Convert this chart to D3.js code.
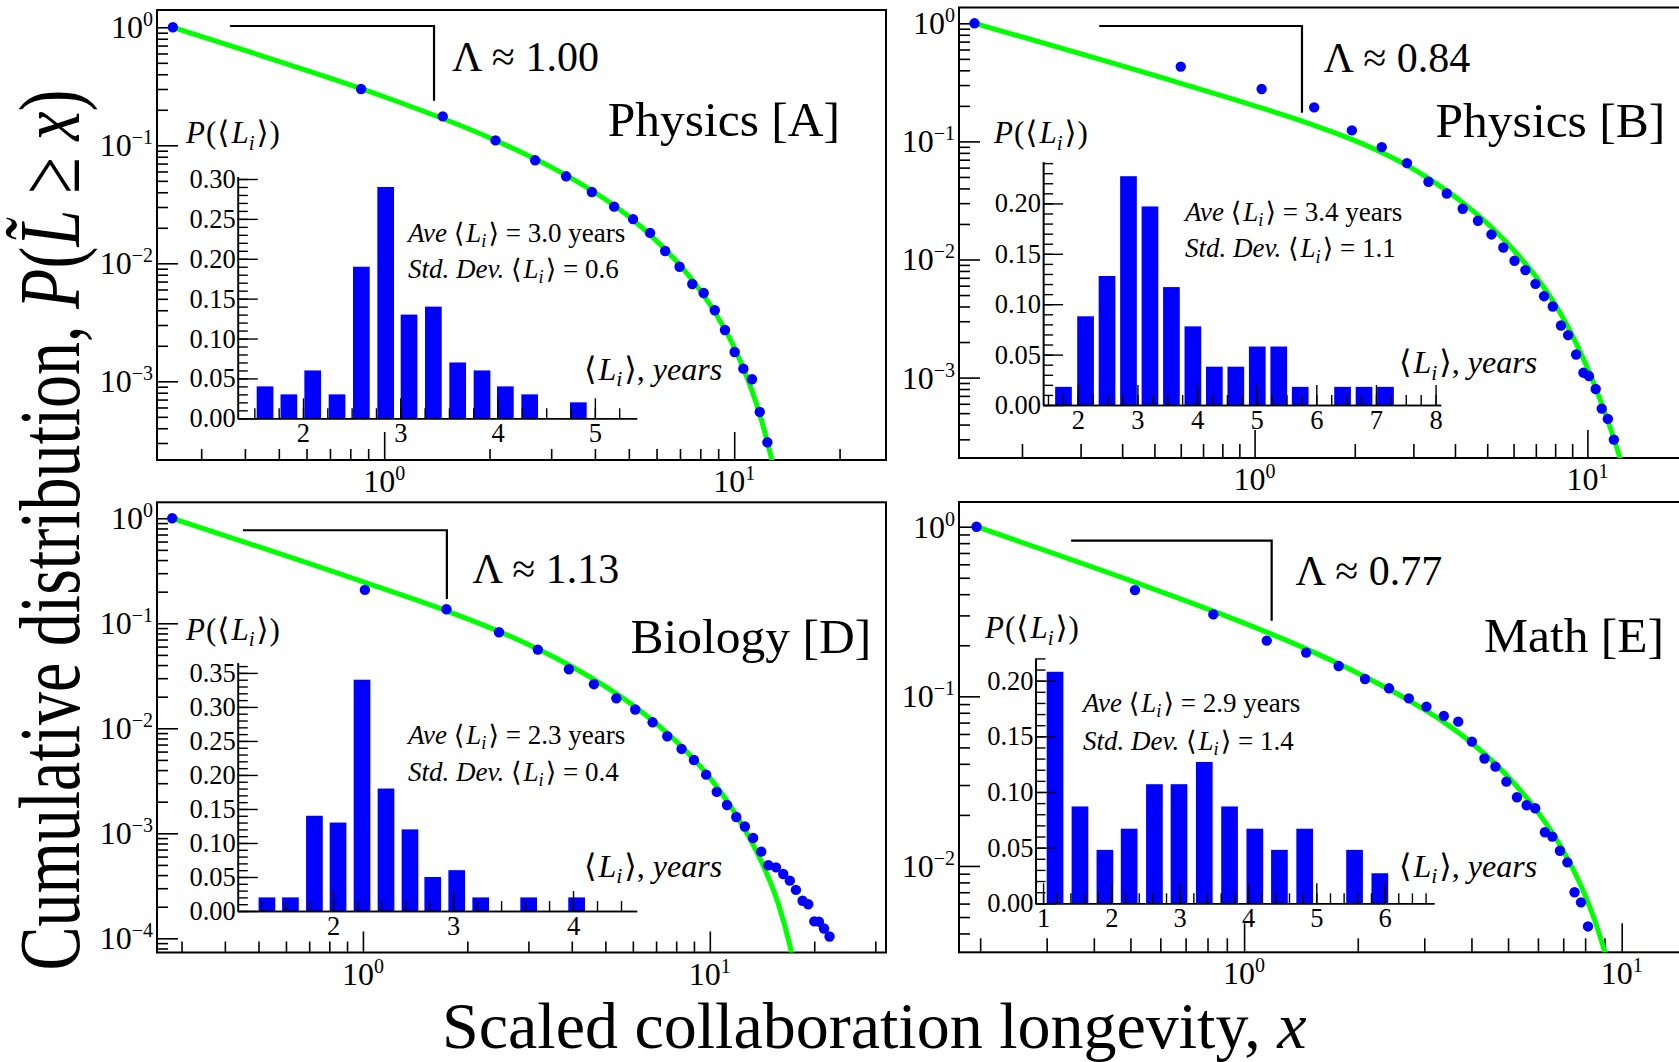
<!DOCTYPE html>
<html>
<head>
<meta charset="utf-8">
<script src="https://cdn.jsdelivr.net/npm/d3@7"></script>
<style>
  body { margin: 0; background: #fff; }
  svg { display: block; }
  text { font-family: 'Liberation Serif', 'Times New Roman', Times, 'DejaVu Serif', serif; fill: #000; }
</style>
</head>
<body>
<svg id="chart" width="1679" height="1062"></svg>
<script>
// ---------- panel labels ----------
const panelNames = ["Physics [A]", "Physics [B]", "Biology [D]", "Math [E]"];
const lambdaValues = ["1.00", "0.84", "1.13", "0.77"];
const aveLi = ["3.0", "3.4", "2.3", "2.9"];
const stdLi = ["0.6", "1.1", "0.4", "1.4"];

// ---------- cumulative distributions (scaled longevity x, P(L >= x)) ----------
const scaledXA = [0.249, 0.859, 1.47, 2.08, 2.70, 3.31, 3.92, 4.54, 5.14, 5.75, 6.35, 6.98, 7.59, 8.18, 8.80, 9.41, 10.03, 10.62, 11.24, 11.83, 12.44];
const cumPA = [1.0, 0.300, 0.176, 0.110, 0.0746, 0.0546, 0.0402, 0.0302, 0.0237, 0.0181, 0.0127, 0.00935, 0.00668, 0.00560, 0.00400, 0.00272, 0.00177, 0.00128, 0.00104, 0.00055, 0.000304];

const scaledXB = [0.144, 0.600, 1.05, 1.51, 1.96, 2.41, 2.87, 3.33, 3.78, 4.22, 4.69, 5.15, 5.59, 6.04, 6.51, 6.98, 7.41, 7.87, 8.33, 8.75, 9.25, 9.73, 10.11, 10.59, 11.04, 11.52, 12.01];
const cumPB = [1.0, 0.430, 0.278, 0.194, 0.124, 0.0895, 0.0655, 0.0455, 0.0362, 0.0269, 0.0213, 0.0163, 0.01264, 0.00975, 0.00813, 0.00622, 0.00489, 0.00400, 0.00276, 0.00229, 0.00157, 0.00110, 0.00103, 0.00080, 0.000546, 0.000447, 0.000298];

const scaledXD = [0.282, 1.013, 1.741, 2.468, 3.193, 3.925, 4.634, 5.377, 6.095, 6.84, 7.54, 8.29, 9.00, 9.76, 10.47, 11.21, 11.92, 12.62, 13.33, 14.07, 14.75, 15.52, 16.28, 17.01, 17.71, 18.51, 19.22, 20.01, 20.63, 21.34, 22.14];
const cumPD = [1.0, 0.208, 0.136, 0.0821, 0.0561, 0.0365, 0.0263, 0.0193, 0.0151, 0.0114, 0.00839, 0.00636, 0.00499, 0.00362, 0.00248, 0.00186, 0.00143, 0.00116, 0.000903, 0.000669, 0.000496, 0.000474, 0.000410, 0.000354, 0.000289, 0.000228, 0.000211, 0.000145, 0.000144, 0.000124, 0.000104];

const scaledXE = [0.1956, 0.514, 0.829, 1.148, 1.46, 1.78, 2.09, 2.42, 2.73, 3.04, 3.38, 3.69, 4.01, 4.33, 4.63, 4.95, 5.28, 5.60, 5.90, 6.26, 6.55, 6.86, 7.18, 7.50, 7.80, 8.14];
const cumPE = [1.0, 0.423, 0.304, 0.213, 0.181, 0.151, 0.1266, 0.1115, 0.0973, 0.0869, 0.0766, 0.0709, 0.0541, 0.0430, 0.0385, 0.0314, 0.0254, 0.0228, 0.0219, 0.0158, 0.0149, 0.0123, 0.0105, 0.0070, 0.0061, 0.0044];

// ---------- fitted curves ----------
const fitXA = [0.249, 0.5, 1, 2, 3, 4, 5, 6, 7, 8, 9, 10, 11, 12, 12.85];
const fitPA = [1.0, 0.515, 0.258, 0.116, 0.0653, 0.0398, 0.0249, 0.0155, 0.00964, 0.00587, 0.00346, 0.00194, 0.000993, 0.000454, 0.000207];

const fitXB = [0.144, 0.6, 1.05, 1.51, 1.96, 2.41, 2.87, 3.33, 4.22, 5.15, 6.04, 6.98, 7.87, 8.75, 9.73, 10.59, 11.52, 12.45, 12.7];
const fitPB = [1.0, 0.3105, 0.1919, 0.1368, 0.1040, 0.0807, 0.0627, 0.0486, 0.0303, 0.01875, 0.0118, 0.00723, 0.00448, 0.00267, 0.00144, 0.000817, 0.000431, 0.000221, 0.000183];

const fitXD = [0.282, 1.013, 1.741, 2.468, 3.193, 3.925, 4.634, 6.095, 7.54, 9.76, 11.92, 14.07, 15.8, 17.01, 17.4];
const fitPD = [1.0, 0.245, 0.1315, 0.0836, 0.0568, 0.0400, 0.0292, 0.01596, 0.00899, 0.00374, 0.00149, 0.000543, 0.000207, 0.0000857, 0.0000617];

const fitXE = [0.1956, 0.514, 0.829, 1.148, 1.46, 1.78, 2.09, 2.73, 3.38, 4.01, 4.95, 5.90, 6.86, 7.80, 8.50, 8.95, 9.1];
const fitPE = [1.0, 0.471, 0.318, 0.239, 0.1905, 0.1556, 0.1303, 0.0946, 0.0705, 0.0531, 0.0344, 0.0218, 0.0133, 0.00764, 0.00472, 0.00330, 0.00293];

// ---------- inset histograms of <L_i> (bin centre in years, probability) ----------
const binLA = [1.61, 1.855, 2.10, 2.35, 2.60, 2.85, 3.09, 3.34, 3.59, 3.84, 4.08, 4.33, 4.58, 4.83];
const binPA = [0.04, 0.03, 0.06, 0.03, 0.19, 0.29, 0.13, 0.14, 0.07, 0.06, 0.04, 0.03, 0, 0.02];
const binLB = [1.76, 2.13, 2.49, 2.85, 3.21, 3.57, 3.93, 4.29, 4.65, 5.01, 5.37, 5.73, 6.09, 6.44, 6.80, 7.16];
const binPB = [0.018, 0.088, 0.128, 0.227, 0.197, 0.117, 0.078, 0.038, 0.038, 0.058, 0.058, 0.018, 0, 0.018, 0.018, 0.018];
const binLD = [1.447, 1.643, 1.843, 2.04, 2.24, 2.44, 2.64, 2.83, 3.03, 3.23, 3.43, 3.63, 3.83, 4.03];
const binPD = [0.02, 0.02, 0.14, 0.13, 0.34, 0.18, 0.12, 0.05, 0.06, 0.02, 0, 0.02, 0, 0.02];
const binLE = [1.175, 1.54, 1.905, 2.26, 2.63, 2.99, 3.36, 3.73, 4.10, 4.46, 4.83, 5.20, 5.56, 5.93];
const binPE = [0.208, 0.087, 0.048, 0.067, 0.107, 0.107, 0.127, 0.087, 0.067, 0.048, 0.067, 0, 0.048, 0.027];

// ---------- tick labels ----------
const mainYExpA = [0, -1, -2, -3];
const mainYExpB = [0, -1, -2, -3];
const mainYExpD = [0, -1, -2, -3, -4];
const mainYExpE = [0, -1, -2];
const mainXExp = [0, 1];
const insetYTicksA = [0, 0.05, 0.10, 0.15, 0.20, 0.25, 0.30];
const insetYTicksB = [0, 0.05, 0.10, 0.15, 0.20];
const insetYTicksD = [0, 0.05, 0.10, 0.15, 0.20, 0.25, 0.30, 0.35];
const insetYTicksE = [0, 0.05, 0.10, 0.15, 0.20];
const insetXTicksA = [2, 3, 4, 5];
const insetXTicksB = [2, 3, 4, 5, 6, 7, 8];
const insetXTicksD = [2, 3, 4];
const insetXTicksE = [1, 2, 3, 4, 5, 6];

// slope bracket: [x start, x corner, y top, y bottom] in data units
const bracketA = [0.3625, 1.388, 1.026, 0.2388];
const bracketB = [0.3412, 1.388, 0.949, 0.175];
const bracketD = [0.451, 1.746, 0.769, 0.1704];
const bracketE = [0.3483, 1.183, 0.827, 0.279];

// ---------- layout ----------
const pow10 = v => Math.pow(10, v);
const panels = [
  { x: scaledXA, p: cumPA, fx: fitXA, fp: fitPA, bl: binLA, bp: binPA, yExp: mainYExpA, iy: insetYTicksA, ix: insetXTicksA, br: bracketA, k: 0,
    frame: [157, 886, 10, 460], xd: [-0.6491, 1.4337], yd: [-3.667, 0.1466], tx: [28, 11],
    inset: { l: 237.8, r: 636.7, b: 418.3, t: 176.6, xd: [1.33, 5.43], yd: [0, 0.303], minor: 0.25 },
    title: [607.7, 136], lam: [452, 70.7], pl: [186, 143.3], ll: [584, 380], st: [408, 241.7, 277.7] },
  { x: scaledXB, p: cumPB, fx: fitXB, fp: fitPB, bl: binLB, bp: binPB, yExp: mainYExpB, iy: insetYTicksB, ix: insetXTicksB, br: bracketB, k: 1,
    frame: [959, 1692, 7.5, 458], xd: [-0.8882, 1.3143], yd: [-3.681, 0.134], tx: [28, 14],
    inset: { l: 1043.1, r: 1440.7, b: 405, t: 161.7, xd: [1.418, 8.086], yd: [0, 0.2414], minor: 0.25 },
    title: [1435.6, 137.3], lam: [1323.4, 71.7], pl: [994, 143.3], ll: [1399, 373.3], st: [1185, 220.7, 257.3] },
  { x: scaledXD, p: cumPD, fx: fitXD, fp: fitPD, bl: binLD, bp: binPD, yExp: mainYExpD, iy: insetYTicksD, ix: insetXTicksD, br: bracketD, k: 2,
    frame: [157, 886, 502.3, 952.5], xd: [-0.5936, 1.5079], yd: [-4.135, 0.152], tx: [21, 11],
    inset: { l: 237.8, r: 636.7, b: 911, t: 662.7, xd: [1.204, 4.531], yd: [0, 0.365], minor: 0.2 },
    title: [630.6, 652.7], lam: [472.4, 583.3], pl: [186, 640], ll: [584, 876.7], st: [408, 744, 780.7] },
  { x: scaledXE, p: cumPE, fx: fitXE, fp: fitPE, bl: binLE, bp: binPE, yExp: mainYExpE, iy: insetYTicksE, ix: insetXTicksE, br: bracketE, k: 3,
    frame: [959, 1692, 502, 952.3], xd: [-0.755, 1.1861], yd: [-2.509, 0.1456], tx: [29, 14],
    inset: { l: 1035.5, r: 1434, b: 903.3, t: 658.2, xd: [0.889, 6.723], yd: [0, 0.2202], minor: 0.2 },
    title: [1484, 651.7], lam: [1295.4, 585], pl: [985, 638.3], ll: [1399, 876.7], st: [1083, 711.7, 750] }
];

const svg = d3.select('#chart');
const defs = svg.append('defs');

// text with italic / subscript runs: parts = [[string, flags, dx]] where flags may hold 'i' (italic) and 's' (subscript)
function rich(g, x, y, size, parts, anchor) {
  const t = g.append('text').attr('x', x).attr('y', y).style('font-size', size + 'px');
  if (anchor) t.attr('text-anchor', anchor);
  let inSub = false;
  parts.forEach(([s, f, dx]) => {
    const ts = t.append('tspan').text(s);
    if (dx) ts.attr('dx', dx);
    if (f.includes('i')) ts.style('font-style', 'italic');
    const sub = f.includes('s');
    if (sub && !inSub) ts.attr('dy', size * 0.2);
    if (!sub && inSub) ts.attr('dy', -size * 0.2);
    if (sub) ts.style('font-size', (size * 0.68) + 'px');
    inSub = sub;
  });
  return t;
}

function powerLabel(g, x, y, anchor, exp) {
  const t = g.append('text').attr('x', x).attr('y', y).attr('text-anchor', anchor).style('font-size', '32px');
  t.append('tspan').text('10');
  t.append('tspan').attr('dy', -12).style('font-size', '20px').text(exp < 0 ? '\u2212' + (-exp) : String(exp));
}

function logTicks(lo, hi) {
  const major = [], minor = [];
  for (let e = Math.floor(lo) - 1; e <= Math.ceil(hi); e++) {
    for (let m = 1; m <= 9; m++) {
      const v = m * pow10(e);
      const lv = Math.log10(v);
      if (lv < lo - 1e-9 || lv > hi + 1e-9) continue;
      (m === 1 ? major : minor).push(v);
    }
  }
  return { major, minor };
}

const LA = '\u27E8', RA = '\u27E9';

panels.forEach(pn => {
  const [left, right, top, bottom] = pn.frame;
  const g = svg.append('g');
  const x = d3.scaleLog().domain(pn.xd.map(pow10)).range([left, right]);
  const y = d3.scaleLog().domain(pn.yd.map(pow10)).range([bottom, top]);

  const clipId = 'clip' + pn.k;
  defs.append('clipPath').attr('id', clipId).append('rect')
    .attr('x', left).attr('y', top).attr('width', right - left).attr('height', bottom - top);

  // inward ticks on the left and bottom axes
  const yt = logTicks(pn.yd[0], pn.yd[1]);
  const xt = logTicks(pn.xd[0], pn.xd[1]);
  const tickStyle = s => s.call(a => a.select('.domain').remove())
    .call(a => a.selectAll('line').attr('stroke-width', 1.6))
    .call(a => a.selectAll('text').remove());
  g.append('g').attr('transform', `translate(${left},0)`)
    .call(d3.axisLeft(y).tickValues(yt.minor).tickSize(-11).tickSizeOuter(0).tickFormat('')).call(tickStyle);
  g.append('g').attr('transform', `translate(${left},0)`)
    .call(d3.axisLeft(y).tickValues(yt.major).tickSize(-21).tickSizeOuter(0).tickFormat('')).call(tickStyle);
  g.append('g').attr('transform', `translate(0,${bottom})`)
    .call(d3.axisBottom(x).tickValues(xt.minor).tickSize(-pn.tx[1]).tickSizeOuter(0).tickFormat('')).call(tickStyle);
  g.append('g').attr('transform', `translate(0,${bottom})`)
    .call(d3.axisBottom(x).tickValues(xt.major).tickSize(-pn.tx[0]).tickSizeOuter(0).tickFormat('')).call(tickStyle);

  // frame
  g.append('rect').attr('x', left).attr('y', top).attr('width', right - left).attr('height', bottom - top)
    .attr('fill', 'none').attr('stroke', '#000').attr('stroke-width', 2);

  // tick labels
  pn.yExp.forEach(e => powerLabel(g, left - 4, y(pow10(e)) + 11, 'end', e));
  mainXExp.forEach(e => powerLabel(g, x(pow10(e)), bottom + 32, 'middle', e));

  // inset histogram
  const ins = pn.inset;
  const xi = d3.scaleLinear().domain(ins.xd).range([ins.l, ins.r]);
  const yi = d3.scaleLinear().domain(ins.yd).range([ins.b, ins.t]);
  const barW = 16.7;
  g.append('g').selectAll('rect').data(pn.bl.map((c, i) => [c, pn.bp[i]]).filter(d => d[1] > 0))
    .join('rect')
    .attr('x', d => xi(d[0]) - barW / 2).attr('width', barW)
    .attr('y', d => yi(d[1])).attr('height', d => yi(0) - yi(d[1]))
    .attr('fill', '#0000ff');

  const yMinor = d3.range(0, ins.yd[1] + 1e-9, 0.01);
  const xMinor = d3.range(Math.ceil(ins.xd[0] / ins.minor) * ins.minor, ins.xd[1], ins.minor);
  const insStyle = s => s.call(a => a.selectAll('line').attr('stroke-width', 1.4))
    .call(a => a.select('.domain').attr('stroke-width', 1.6));
  g.append('g').attr('transform', `translate(${ins.l},0)`)
    .call(d3.axisLeft(yi).tickValues(yMinor).tickSize(-10).tickSizeOuter(0).tickFormat(''))
    .call(insStyle).call(a => a.selectAll('text').remove());
  g.append('g').attr('transform', `translate(${ins.l},0)`)
    .call(d3.axisLeft(yi).tickValues(pn.iy).tickSize(-20).tickSizeOuter(0).tickPadding(2).tickFormat(d3.format('.2f')))
    .call(insStyle).call(a => a.selectAll('text').style('font-size', '26.5px'));
  g.append('g').attr('transform', `translate(0,${ins.b})`)
    .call(d3.axisBottom(xi).tickValues(xMinor).tickSize(-10).tickSizeOuter(0).tickFormat(''))
    .call(insStyle).call(a => a.selectAll('text').remove());
  g.append('g').attr('transform', `translate(0,${ins.b})`)
    .call(d3.axisBottom(xi).tickValues(pn.ix).tickSize(-20).tickSizeOuter(0).tickPadding(5).tickFormat(d3.format('d')))
    .call(insStyle).call(a => a.selectAll('text').style('font-size', '26.5px'));

  // fitted curve and data points
  const plot = g.append('g').attr('clip-path', `url(#${clipId})`);
  const line = d3.line().x(d => x(d[0])).y(d => y(d[1])).curve(d3.curveMonotoneX);
  plot.append('path').datum(pn.fx.map((v, i) => [v, pn.fp[i]]))
    .attr('d', line).attr('fill', 'none').attr('stroke', '#00ff00').attr('stroke-width', 5)
    .attr('stroke-linejoin', 'round');
  plot.append('g').selectAll('circle').data(pn.x.map((v, i) => [v, pn.p[i]]))
    .join('circle').attr('cx', d => x(d[0])).attr('cy', d => y(d[1])).attr('r', 5.2).attr('fill', '#0000ff');

  // slope bracket
  const [bx0, bx1, by0, by1] = pn.br;
  g.append('path')
    .attr('d', `M${x(bx0)},${y(by0)}H${x(bx1)}V${y(by1)}`)
    .attr('fill', 'none').attr('stroke', '#000').attr('stroke-width', 2.2);

  // annotations
  g.append('text').attr('x', pn.title[0]).attr('y', pn.title[1]).style('font-size', '49.5px').text(panelNames[pn.k]);
  g.append('text').attr('x', pn.lam[0]).attr('y', pn.lam[1]).style('font-size', '42px').text('\u039B \u2248 ' + lambdaValues[pn.k]);
  rich(g, pn.pl[0], pn.pl[1], 31, [['P', 'i'], ['(', '', 1], [LA, '', 1], ['L', 'i', 2], ['i', 'is'], [RA, '', 2], [')', '', 1]]);
  rich(g, pn.ll[0], pn.ll[1], 32, [[LA, ''], ['L', 'i', 2], ['i', 'is'], [RA, '', 2], [', ', ''], ['years', 'i']]);
  rich(g, pn.st[0], pn.st[1], 27, [['Ave ', 'i'], [LA, ''], ['L', 'i', 2], ['i', 'is'], [RA, '', 2], [' = ' + aveLi[pn.k] + ' years', '']]);
  rich(g, pn.st[0], pn.st[2], 27, [['Std. Dev. ', 'i'], [LA, ''], ['L', 'i', 2], ['i', 'is'], [RA, '', 2], [' = ' + stdLi[pn.k], '']]);
});

// shared axis titles
rich(svg, 442, 1048, 66, [['Scaled collaboration longevity, ', ''], ['x', 'i']]);
const yTitle = svg.append('g').attr('transform', 'translate(79,530) rotate(-90) scale(1,1.32)');
rich(yTitle, 0, 0, 66, [['Cumulative distribution, ', ''], ['P', 'i'], ['(', ''], ['L\u0303', 'i'], [' \u2265 ', ''], ['x', 'i'], [')', '']], 'middle');
</script>
</body>
</html>
